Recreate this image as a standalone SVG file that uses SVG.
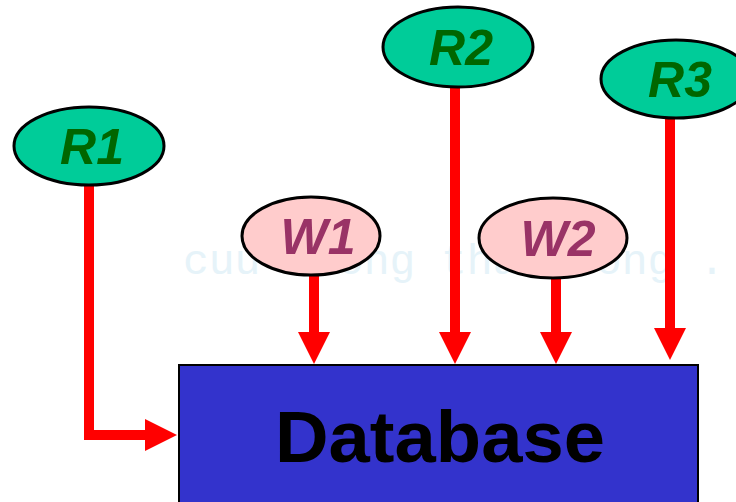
<svg xmlns="http://www.w3.org/2000/svg" width="736" height="502" viewBox="0 0 736 502">
<style>
.r{fill:#00cc99;stroke:#000;stroke-width:3}
.w{fill:#ffcccc;stroke:#000;stroke-width:3}
.rt{font-family:"Liberation Sans",Arial,sans-serif;font-style:italic;font-weight:bold;font-size:50px;fill:#006600;text-anchor:middle}
.wt{font-family:"Liberation Sans",Arial,sans-serif;font-style:italic;font-weight:bold;font-size:50px;fill:#993366;text-anchor:middle}
.c{fill:none;stroke:#ff0000;stroke-width:10;marker-end:url(#ah)}
.wm{font-family:"Liberation Mono",monospace;font-size:43px;fill:#e6f3f9}
</style>
<defs>
<marker id="ah" markerUnits="userSpaceOnUse" markerWidth="32" markerHeight="32" viewBox="0 0 32 32" refX="1" refY="16" orient="auto">
<path d="M0,0 L32,16 L0,32 Z" fill="#ff0000"/>
</marker>
</defs>
<rect width="736" height="502" fill="#fff"/>
<text class="wm" x="183" y="274">cuu duong than cong .</text>
<g id="connectors">
<path class="c" d="M89,186 V435 H146"/>
<path class="c" d="M314,275 V333"/>
<path class="c" d="M455,87 V333"/>
<path class="c" d="M556,278 V333"/>
<path class="c" d="M670,118 V329"/>
</g>
<g id="database">
<rect x="179" y="365" width="519" height="140" fill="#3333cc" stroke="#000" stroke-width="2"/>
<text x="440" y="462" font-family="'Liberation Sans',Arial,sans-serif" font-weight="bold" font-size="72" text-anchor="middle" fill="#000" textLength="330" lengthAdjust="spacingAndGlyphs">Database</text>
</g>
<g id="R1"><ellipse class="r" cx="89" cy="146" rx="75" ry="39"/><text class="rt" x="92" y="164">R1</text></g>
<g id="R2"><ellipse class="r" cx="458" cy="47" rx="75" ry="40"/><text class="rt" x="461" y="65">R2</text></g>
<g id="R3"><ellipse class="r" cx="676" cy="79" rx="75" ry="39"/><text class="rt" x="680" y="97">R3</text></g>
<g id="W1"><ellipse class="w" cx="311" cy="236" rx="69" ry="39"/><text class="wt" x="318" y="254">W1</text></g>
<g id="W2"><ellipse class="w" cx="553" cy="238" rx="74" ry="40"/><text class="wt" x="558" y="256">W2</text></g>
</svg>
